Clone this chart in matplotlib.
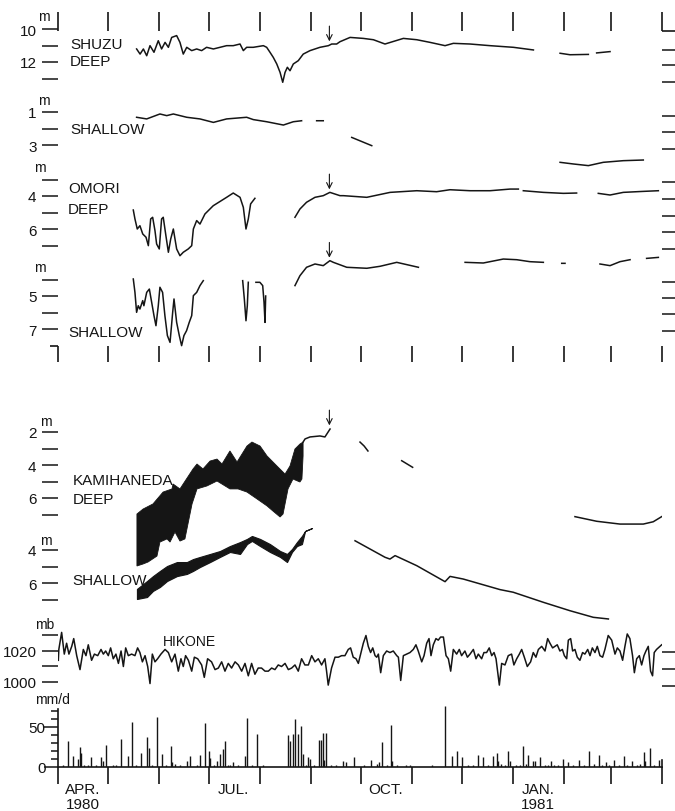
# Groundwater levels at Shuzu, Omori and Kamihaneda with Hikone pressure and rainfall
# Apr 1980 - Mar 1981, time axis in days from 1 Apr 1980

import numpy as np
import matplotlib
matplotlib.use('Agg')
import matplotlib.pyplot as plt

nan = np.nan

month_start = [0, 30, 61, 91, 122, 153, 183, 214, 244, 275, 306, 334, 365]
month_mid = [15, 106, 198, 290]
month_labels = ['APR.\n1980', 'JUL.', 'OCT.', 'JAN.\n1981']
arrow_day = 164

# SHUZU deep (m below surface)
shuzu_deep_day = [47.5, 49.6, 51.6, 53.6, 55.6, 58.0, 60.6, 62.6, 64.7, 66.7, 68.7, 71.7, 73.7,
                  75.7, 77.8, 80.8, 83.8, 86.8, 89.8, 93.9, 97.9, 101.9, 105.9, 110.0, 112.0,
                  114.0, 118.0, 124.1, 126.1, 128.1, 130.1, 132.2, 134.2, 135.8, 137.2, 138.6,
                  140.2, 142.2, 145.2, 148.2, 152.3, 158.3, 163.4, 165.4, 168.4, 170.4, 176.5,
                  184.5, 190.6, 197.6, 208.7, 216.8, 224.8, 233.9, 238.9, 249.0, 261.1, 275.2,
                  287.3, nan, 303.4, 309.4, 320.5, nan, 325.5, 333.6]
shuzu_deep_m = [11.21, 11.52, 11.21, 11.62, 11.01, 11.41, 10.71, 11.21, 10.81, 11.11, 10.51, 10.40,
                10.81, 11.52, 11.11, 11.31, 11.21, 11.31, 11.11, 11.21, 11.11, 11.01, 11.01, 10.91,
                11.31, 11.11, 11.11, 11.01, 11.11, 11.41, 11.72, 12.12, 12.63, 13.23, 12.63, 12.32,
                12.53, 12.12, 11.92, 11.52, 11.31, 11.11, 11.01, 10.91, 10.91, 10.77, 10.51, 10.57,
                10.65, 10.91, 10.57, 10.65, 10.81, 11.01, 10.87, 10.91, 11.01, 11.11, 11.27, nan,
                11.47, 11.56, 11.54, nan, 11.45, 11.37]

# SHUZU shallow
shuzu_shal_day = [47.5, 53.6, 61.6, 65.7, 69.7, 77.8, 85.8, 93.9, 101.9, 114.0, 118.0, 126.1,
                  136.2, 142.2, 147.2, nan, 156.3, 160.3, nan, 177.5, 189.6, nan,
                  303.4, 311.4, 320.5, 329.5, 341.6, 353.7]
shuzu_shal_m = [1.32, 1.42, 1.12, 1.22, 1.12, 1.32, 1.42, 1.63, 1.42, 1.32, 1.46, 1.59,
                1.79, 1.59, 1.53, nan, 1.53, 1.53, nan, 2.54, 3.04, nan,
                4.05, 4.15, 4.25, 4.05, 3.95, 3.91]

# OMORI deep
omori_deep_day = [45.5, 46.5, 47.9, 49.5, 51.2, 53.2, 54.6, 56.0, 57.2, 58.6, 59.6, 61.2, 62.6,
                  63.6, 65.2, 66.7, 68.1, 69.7, 70.7, 71.7, 73.7, 75.7, 78.7, 80.8, 81.8, 83.8,
                  85.8, 88.8, 93.8, 101.9, 105.9, 110.0, 112.0, 113.6, 115.0, 116.4, 119.0, nan,
                  143.2, 146.2, 150.2, 155.3, 160.3, 164.3, 170.4, 172.5, 186.6, 200.7, 216.8,
                  228.8, 236.9, 249.0, 261.1, 273.2, 278.2, nan, 281.2, 293.3, 305.4, 313.4, nan,
                  326.5, 333.6, 341.6, 353.7, 362.8]
omori_deep_m = [4.85, 5.39, 6.0, 5.8, 6.3, 6.5, 7.01, 5.39, 5.29, 6.1, 6.91, 7.21, 5.39,
                5.29, 6.4, 7.41, 6.61, 6.0, 6.61, 7.21, 7.62, 7.41, 7.21, 7.01, 6.0, 5.49,
                5.7, 5.09, 4.59, 4.08, 3.82, 4.08, 4.69, 6.0, 5.39, 4.48, 4.14, nan,
                5.29, 4.79, 4.38, 4.08, 3.98, 3.78, 3.98, 3.98, 4.08, 3.78, 3.68,
                3.74, 3.62, 3.68, 3.68, 3.58, 3.58, nan, 3.68, 3.78, 3.84, 3.82, nan,
                3.84, 3.94, 3.78, 3.72, 3.68]

# OMORI shallow
omori_shal_day = [45.5, 46.5, 47.5, 48.5, 49.5, 51.2, 51.9, 53.6, 55.2, 56.6, 58.0, 59.2, 60.6,
                  61.6, 63.2, 64.6, 66.1, 67.7, 69.3, 70.1, 71.7, 73.3, 74.7, 76.1, 77.7, 79.3,
                  80.8, 81.8, 83.8, 85.8, 87.8, nan, 111.6, 112.6, 113.6, 114.4, 115.0, nan,
                  119.6, 122.0, 123.7, 124.5, 125.1, 125.5, nan, 143.2, 146.2, 150.2, 155.3,
                  160.3, 164.3, 166.4, 174.5, 186.6, 194.6, 204.7, 217.8, nan, 246.0, 257.0,
                  269.1, 277.2, 285.2, 293.3, nan, 304.4, 306.4, nan, 327.5, 333.6, 339.6,
                  345.7, nan, 355.7, 362.8]
omori_shal_m = [3.97, 4.78, 5.99, 5.59, 5.79, 5.28, 5.59, 4.78, 4.58, 5.38, 6.19, 6.8, 5.59,
                4.47, 4.78, 6.19, 7.4, 7.81, 5.99, 5.18, 6.6, 7.4, 8.01, 7.4, 7.1, 6.6,
                6.19, 4.98, 4.78, 4.37, 4.07, nan, 4.07, 5.18, 6.5, 5.59, 4.17, nan,
                4.17, 4.17, 4.37, 5.38, 6.6, 5.0, nan, 4.37, 3.77, 3.26, 3.06,
                3.16, 2.86, 2.96, 3.26, 3.32, 3.2, 2.96, 3.26, nan, 2.96, 3.0,
                2.76, 2.8, 2.92, 2.96, nan, 3.02, 3.02, nan, 3.06, 3.16, 2.92,
                2.8, nan, 2.72, 2.66]

# KAMIHANEDA deep: band of daily pumping fluctuation (top and bottom) then line
kami_deep_top_day = [47.7, 51.4, 57.4, 63.5, 68.9, 69.5, 73.7, 81.6, 84.0, 87.6, 91.9, 96.1, 99.1,
                     103.9, 108.2, 114.2, 117.2, 122.1, 126.3, 132.3, 137.2, 140.2, 143.2, 146.2, 148.1]
kami_deep_top_m = [6.97, 6.67, 6.36, 5.64, 5.45, 5.15, 5.45, 4.24, 3.94, 4.24, 3.76, 3.64, 3.94,
                   3.15, 3.82, 2.85, 2.61, 2.85, 3.45, 4.06, 4.55, 4.06, 3.03, 2.73, 2.61]
kami_deep_bot_day = [47.7, 51.4, 54.4, 59.8, 61.6, 65.9, 67.7, 70.7, 73.7, 76.7, 81.0, 84.0, 90.0,
                     96.1, 103.9, 108.8, 114.2, 120.3, 126.3, 129.9, 134.2, 136.0, 139.0, 142.0,
                     146.2, 147.4, 148.1]
kami_deep_bot_m = [10.12, 10.0, 9.88, 9.52, 8.67, 8.48, 8.67, 8.06, 8.61, 8.48, 6.36, 5.45, 5.27,
                   4.97, 5.45, 5.45, 5.64, 6.06, 6.48, 6.79, 7.15, 6.97, 5.45, 4.85,
                   5.03, 4.85, 3.45]
kami_deep_day = [148.1, 149.3, 152.3, 158.3, 161.3, 164.4, nan, 182.5, 185.0, 187.3, nan,
                 207.7, 214.3, nan, 312.4, 325.5, 339.6, 353.7, 359.7, 364.8]
kami_deep_m = [2.61, 2.42, 2.3, 2.24, 2.3, 1.82, nan, 2.61, 2.85, 3.15, nan,
               3.74, 4.14, nan, 7.13, 7.41, 7.58, 7.58, 7.44, 7.13]

# KAMIHANEDA shallow
kami_shal_band_day = [47.7, 53.8, 57.4, 61.6, 65.9, 71.9, 77.9, 81.6, 85.8, 91.9, 97.9, 103.9,
                      110.0, 114.2, 117.2, 122.1, 128.1, 134.2, 138.4, 141.4, 144.4, 147.4, 149.3, 153.5]
kami_shal_top_m = [6.36, 5.88, 5.58, 5.27, 4.97, 4.73, 4.73, 4.55, 4.42, 4.24, 4.06, 3.76,
                   3.52, 3.33, 3.15, 3.33, 3.64, 4.06, 4.24, 3.94, 3.52, 3.15, 2.85, 2.67]
kami_shal_bot_m = [6.97, 6.85, 6.48, 6.24, 5.88, 5.58, 5.45, 5.27, 5.03, 4.73, 4.42, 4.12,
                   4.24, 3.64, 3.45, 3.76, 4.12, 4.42, 4.73, 4.12, 3.76, 3.64, 2.85, 2.67]
kami_shal_day = [179.5, 197.6, 200.6, 203.7, 216.8, 233.9, 236.9, 244.9, 267.1, 275.1, 293.3,
                 309.4, 323.5, 332.6]
kami_shal_m = [3.44, 4.44, 4.55, 4.34, 4.95, 5.92, 5.6, 5.76, 6.4, 6.56, 7.17,
               7.68, 8.08, 8.18]

# HIKONE atmospheric pressure (mb)
hikone_day = [0.2, 0.5, 2.2, 3.8, 5.2, 6.6, 8.3, 9.5, 11.3, 13.3, 15.3, 16.9, 18.3, 20.3, 22.0, 24.0,
              26.0, 27.4, 28.8, 30.4, 31.8, 33.4, 35.0, 36.5, 38.1, 39.5, 40.9, 42.5, 44.5,
              46.5, 48.1, 49.5, 51.0, 52.6, 54.2, 55.6, 57.0, 58.6, 60.2, 62.2, 64.7, 66.7,
              68.7, 70.7, 72.7, 74.3, 75.7, 77.1, 78.8, 80.8, 82.4, 84.4, 86.8, 88.4, 90.4,
              92.8, 94.9, 96.9, 98.9, 100.9, 102.9, 104.9, 107.0, 109.0, 111.0, 113.0, 115.0,
              117.0, 119.0, 121.0, 123.0, 125.1, 127.1, 129.1, 131.1, 133.1, 135.1, 137.2,
              139.2, 141.2, 143.2, 145.2, 147.2, 149.2, 151.3, 153.3, 155.3, 157.3, 159.3,
              161.3, 162.3, 163.3, 165.3, 167.4, 169.4, 171.4, 173.4, 175.4, 176.8, 178.4,
              180.1, 181.5, 183.1, 184.5,
              186.1, 187.5, 188.9, 190.2, 191.6, 192.6, 193.6, 195.0, 196.6, 198.6, 200.6,
              202.6, 204.7, 205.7, 207.1, 208.7, 210.7, 212.7, 214.7, 216.3, 217.7, 219.8,
              221.2, 222.8, 224.2, 225.4, 226.8, 228.4, 229.8, 231.2, 232.9, 234.5, 235.9,
              237.3, 238.9, 240.9, 242.5, 243.9, 245.9, 247.4, 249.0, 251.0, 252.6, 254.0,
              256.0, 257.4, 259.0, 260.6, 262.1, 263.5, 264.7, 266.7, 268.1, 270.1, 272.1,
              274.1, 275.5, 277.2, 278.8, 280.2, 281.8, 283.6, 285.6, 287.2, 288.8, 290.3,
              292.3, 294.3, 295.9, 297.3, 298.9, 300.3, 301.7, 303.3, 304.8, 306.0, 307.4,
              308.4, 309.8, 311.0, 312.4, 313.8, 315.4, 317.0, 318.4, 320.1, 321.5, 322.9,
              324.5, 325.9, 327.5, 329.1, 330.5, 332.5, 334.6, 336.6, 338.0, 339.6, 341.2,
              342.6, 344.0, 345.6, 347.2, 348.3, 349.7, 351.3, 352.7, 354.1, 355.3, 356.7,
              358.1, 359.3, 360.3, 361.7, 363.8, 364.8]
hikone_mb = [1014, 1021, 1032, 1018, 1025, 1018, 1023, 1028, 1017, 1008, 1021, 1017, 1024, 1014, 1018,
             1017, 1021, 1018, 1020, 1017, 1022, 1015, 1018, 1012, 1020, 1010, 1022, 1017, 1018,
             1017, 1022, 1019, 1013, 1017, 1010, 999, 1018, 1013, 1015, 1018, 1021, 1019,
             1013, 1018, 1007, 1015, 1010, 1017, 1014, 1007, 1016, 1015, 1011, 1003, 1015,
             1013, 1008, 1009, 1013, 1007, 1012, 1009, 1013, 1011, 1007, 1012, 1004,
             1012, 1005, 1009, 1009, 1007, 1007, 1009, 1008, 1011, 1010, 1012,
             1008, 1009, 1011, 1007, 1015, 1011, 1011, 1017, 1013, 1015, 1011,
             1015, 1007, 998, 1009, 1016, 1016, 1017, 1017, 1021, 1022, 1016,
             1015, 1012, 1019, 1025,
             1030, 1023, 1019, 1022, 1017, 1016, 1018, 1006, 1017, 1020, 1019,
             1020, 1017, 1016, 1001, 1017, 1018, 1019, 1021, 1024, 1020, 1013,
             1017, 1025, 1028, 1017, 1024, 1028, 1027, 1029, 1029, 1017, 1015,
             1007, 1021, 1018, 1021, 1017, 1020, 1016, 1018, 1021, 1015, 1018,
             1015, 1019, 1019, 1022, 1017, 1019, 1015, 998, 1012, 1011, 1017,
             1018, 1011, 1015, 1018, 1021, 1016, 1010, 1013, 1019, 1016, 1021,
             1023, 1020, 1028, 1025, 1022, 1023, 1024, 1020, 1021, 1017, 1015,
             1027, 1028, 1020, 1021, 1016, 1014, 1019, 1018, 1021, 1017, 1022,
             1019, 1023, 1017, 1016, 1021, 1030, 1027, 1018, 1022, 1020, 1014,
             1023, 1031, 1028, 1017, 1006, 1015, 1017, 1011, 1017, 1020, 1023,
             1007, 1004, 1019, 1021, 1023, 1024]

# daily rainfall (mm/d)
precip_day = [6, 9, 12, 13, 14, 20, 26, 27, 29, 38, 42, 45, 50, 54, 55, 60, 63, 68, 69, 78, 80,
              86, 89, 91, 92, 96, 98, 100, 101, 106, 113, 114, 120, 139, 140, 142, 143, 145,
              147, 148, 151, 152, 158, 159, 160, 161, 162, 172, 174, 179, 189, 193, 194, 196,
              201, 202, 234, 238, 241, 244, 254, 257, 263, 265, 266, 272, 273, 281, 284, 287,
              288, 291, 298, 305, 308, 315, 321, 327, 331, 336, 342, 347, 354, 355, 358, 363]
precip_mm = [32, 14, 10, 25, 17, 12, 12, 8, 28, 35, 14, 56, 17, 38, 24, 62, 16, 26, 6, 7, 14,
             15, 55, 20, 11, 8, 16, 22, 32, 6, 14, 61, 41, 40, 32, 41, 60, 41,
             51, 16, 12, 10, 34, 34, 42, 9, 43, 8, 6, 12, 9, 4, 6, 31,
             52, 8, 76, 14, 20, 12, 15, 12, 14, 18, 8, 20, 8, 26, 15, 8,
             8, 12, 8, 10, 6, 9, 20, 15, 6, 9, 14, 7, 19, 8, 24, 9]
precip_light_day = [3, 16, 18, 23, 33, 35, 47, 57, 65, 71, 74, 84, 94, 103, 104, 109, 117, 124,
                    150, 155, 165, 168, 185, 199, 205, 210, 213, 226, 248, 251, 260, 268, 270,
                    277, 279, 283, 294, 296, 300, 302, 311, 318, 324, 329, 333, 339, 344, 350,
                    352, 360]
precip_light_mm = [2, 3, 2, 2, 3, 2, 3, 2, 3, 4, 2, 3, 2, 3, 3, 2, 2, 2,
                   3, 3, 2, 2, 3, 2, 2, 3, 2, 2, 3, 2, 3, 4, 3,
                   2, 3, 4, 3, 2, 3, 2, 3, 3, 4, 3, 2, 3, 2, 3,
                   4, 3]

plt.rcParams['font.family'] = ['Liberation Sans', 'DejaVu Sans']
INK = '#151515'
W, H = 675, 812
X0, X1 = 58, 662

fig = plt.figure(figsize=(6.75, 8.12), dpi=100)


def px_axes(top, bot):
    ax = fig.add_axes([X0 / W, 1 - bot / H, (X1 - X0) / W, (bot - top) / H])
    ax.set_xlim(0, 365)
    ax.patch.set_alpha(0)
    for s in ax.spines.values():
        s.set_visible(False)
    ax.set_xticks([])
    return ax


def level_axes(top, bot, v0, y0, left, labels, right, ppu=16.5, invert=True):
    ax = px_axes(top, bot)
    if invert:
        ax.set_ylim(v0 + (bot - y0) / ppu, v0 - (y0 - top) / ppu)
    else:
        ax.set_ylim(v0 - (bot - y0) / ppu, v0 + (y0 - top) / ppu)
    ax.set_yticks(left, labels)
    ax.set_yticks(right, minor=True)
    ax.tick_params(axis='y', which='major', left=True, right=False, direction='out',
                   length=11.5, width=1.1, pad=4, labelsize=11, color=INK, labelcolor=INK)
    ax.tick_params(axis='y', which='minor', left=False, right=True, direction='out',
                   length=9.5, width=1.1, color=INK)
    return ax


def ptext(x, y, s, size=11, ha='left'):
    fig.text(x / W, 1 - y / H, s, ha=ha, va='center', fontsize=size, color=INK)


def arrow(ax, tip):
    ax.annotate('', xy=(arrow_day, tip), xytext=(0, 11), textcoords='offset points',
                arrowprops=dict(arrowstyle='->', color=INK, lw=0.8, shrinkA=0, shrinkB=0))


# frame of the upper block: month ticks at top and bottom
fr = px_axes(32, 347)
fr.set_ylim(0, 1)
fr.xaxis.remove_overlapping_locs = False
fr.set_xticks(month_start)
fr.set_xticks(month_start, minor=True)
fr.tick_params(axis='x', which='major', top=True, bottom=False, labelbottom=False,
               direction='out', length=13.5, width=1.2, color=INK)
fr.tick_params(axis='x', which='minor', top=False, bottom=True, labelbottom=False,
               direction='out', length=11.5, width=1.2, color=INK)
fr.set_yticks([0])
fr.set_yticks([0, 1], minor=True)
fr.tick_params(axis='y', which='major', left=True, right=False, labelleft=False,
               direction='out', length=6, width=1.2, color=INK)
fr.tick_params(axis='y', which='minor', left=False, right=True, direction='out',
               length=9.5, width=1.2, color=INK)

# SHUZU
ax = level_axes(5, 365, 10, 30, [10, 11, 12, 13], ['10', '', '12', ''], [11.25, 12.2, 13.2])
ax.plot(shuzu_deep_day, shuzu_deep_m, color=INK, lw=1.1)
arrow(ax, 10.75)
ax = level_axes(5, 365, 1, 113, [1, 2, 3], ['1', '', '3'], [1.25, 2.2, 3.25])
ax.plot(shuzu_shal_day, shuzu_shal_m, color=INK, lw=1.1)

# OMORI
ax = level_axes(5, 365, 4, 197, [3, 4, 5, 6, 7], ['', '4', '', '6', ''], [3.15, 4.2, 5.2, 6.2, 7.2])
ax.plot(omori_deep_day, omori_deep_m, color=INK, lw=1.1)
arrow(ax, 3.6)
ax = level_axes(5, 365, 5, 297, [4, 5, 6, 7], ['', '5', '', '7'], [4.15, 5.1, 6.1, 7.1])
ax.plot(omori_shal_day, omori_shal_m, color=INK, lw=1.1)
arrow(ax, 2.68)

# KAMIHANEDA
ax = level_axes(400, 640, 2, 433, [2, 3, 4, 5, 6, 7], ['2', '', '4', '', '6', ''], [2, 3, 4, 5, 6, 7])
ax.fill(np.r_[kami_deep_top_day, kami_deep_bot_day[::-1]],
        np.r_[kami_deep_top_m, kami_deep_bot_m[::-1]], color=INK, lw=0.6)
ax.plot(kami_deep_day, kami_deep_m, color=INK, lw=1.1)
arrow(ax, 1.6)
ax = level_axes(400, 640, 4, 551, [4, 5, 6, 7], ['4', '', '6', ''], [4, 5, 6, 7])
ax.fill_between(kami_shal_band_day, kami_shal_top_m, kami_shal_bot_m, color=INK, lw=0.8)
ax.plot(kami_shal_day, kami_shal_m, color=INK, lw=1.1)

# HIKONE pressure
ax = level_axes(615, 700, 1020, 652, [1000, 1010, 1020, 1030], ['1000', '', '1020', ''],
                [997.5, 1008.5, 1019.5, 1030], ppu=1.55, invert=False)
ax.plot(hikone_day, hikone_mb, color=INK, lw=1.1)

# rainfall
pr = fig.add_axes([X0 / W, 1 - 768 / H, (X1 - X0) / W, 63 / H])
pr.patch.set_alpha(0)
pr.set_xlim(0, 365)
pr.set_ylim(0, 78.75)
pr.vlines(precip_day, 0, precip_mm, color=INK, lw=1.0)
pr.vlines(precip_light_day, 0, precip_light_mm, color=INK, lw=1.0)
pr.spines['top'].set_visible(False)
for side in ['left', 'right', 'bottom']:
    pr.spines[side].set_linewidth(1.2)
    pr.spines[side].set_color(INK)
pr.spines['left'].set_bounds(0, 72)
pr.spines['right'].set_bounds(0, 9)
pr.set_yticks([0, 10, 20, 30, 40, 50, 60, 70], ['0', '', '', '', '', '50', '', ''])
pr.set_yticks([10, 20, 30, 40, 50, 60, 70], minor=True)
pr.tick_params(axis='y', which='major', left=True, right=False, direction='out', length=5,
               width=1.1, pad=4, labelsize=11, color=INK, labelcolor=INK)
pr.tick_params(axis='y', which='minor', left=False, right=True, direction='out', length=9.5,
               width=1.1, color=INK)
for i in (0, 5):
    pr.yaxis.get_major_ticks()[i].tick1line.set_markersize(10)
pr.set_xticks(month_start, [''] * len(month_start))
pr.set_xticks(month_mid, month_labels, minor=True)
pr.tick_params(axis='x', which='major', direction='out', length=12, width=1.2, color=INK)
pr.tick_params(axis='x', which='minor', length=0, pad=11, labelsize=11, labelcolor=INK)
for t in pr.get_xticklabels(minor=True):
    t.set_linespacing(1.05)

# labels
ptext(70, 45, 'SHUZU')
ptext(70, 62, 'DEEP')
ptext(70, 130, 'SHALLOW')
ptext(68, 189, 'OMORI')
ptext(68, 210, 'DEEP')
ptext(68, 333, 'SHALLOW')
ptext(73, 481, 'KAMIHANEDA')
ptext(73, 500, 'DEEP')
ptext(72, 581, 'SHALLOW')
ptext(163, 642, 'HIKONE', size=10)
for x, y in [(44, 17), (44, 101), (40, 168), (40, 268), (46, 422), (46, 541)]:
    ptext(x, y, 'm', size=10, ha='center')
ptext(45, 625, 'mb', size=10, ha='center')
ptext(52, 700, 'mm/d', size=10, ha='center')

fig.savefig('out.png', dpi=100, facecolor='white')
